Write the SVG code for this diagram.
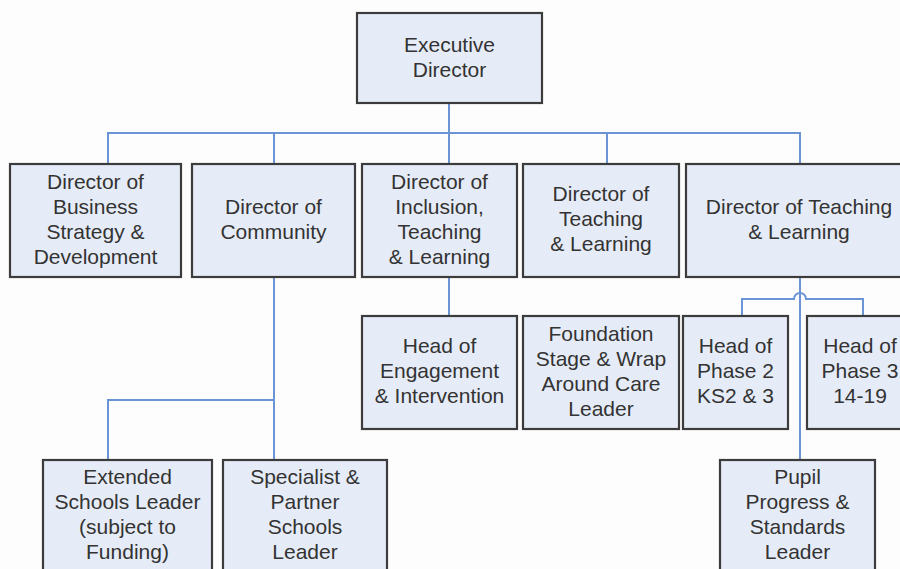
<svg xmlns="http://www.w3.org/2000/svg" width="900" height="569" viewBox="0 0 900 569">
<style>
.box{fill:#e6ecf7;stroke:#3c3c3c;stroke-width:2.2}
.t{font-family:"Liberation Sans",Arial,sans-serif;font-size:21px;fill:#333;text-anchor:middle}
.c{fill:none;stroke:#6a94d4;stroke-width:2}
</style>
<rect width="900" height="569" fill="#fdfdfd"/>
<g id="connectors">
<path class="c" d="M449,103 V164 M108,164 V133 H800 V164 M274,133 V164 M607,133 V164"/>
<path class="c" d="M449,277 V316"/>
<path class="c" d="M274,277 V460 M274,400 H108 V460"/>
<path class="c" d="M800,277 V460"/>
<path class="c" d="M742,316 V299 H794 A6,6 0 0 1 806,299 H863 V316"/>
</g>
<g id="exec"><rect class="box" x="357" y="13" width="185" height="90"/><text class="t" x="449.5" y="52">Executive</text><text class="t" x="449.5" y="77">Director</text></g>
<g id="dir-business"><rect class="box" x="10" y="164" width="171" height="113"/><text class="t" x="95.5" y="189">Director of</text><text class="t" x="95.5" y="214">Business</text><text class="t" x="95.5" y="239">Strategy &amp;</text><text class="t" x="95.5" y="264">Development</text></g>
<g id="dir-community"><rect class="box" x="192" y="164" width="163" height="113"/><text class="t" x="273.5" y="214">Director of</text><text class="t" x="273.5" y="239">Community</text></g>
<g id="dir-inclusion"><rect class="box" x="362" y="164" width="155" height="113"/><text class="t" x="439.5" y="189">Director of</text><text class="t" x="439.5" y="214">Inclusion,</text><text class="t" x="439.5" y="239">Teaching</text><text class="t" x="439.5" y="264">&amp; Learning</text></g>
<g id="dir-teaching1"><rect class="box" x="523" y="164" width="156" height="113"/><text class="t" x="601" y="201">Director of</text><text class="t" x="601" y="226">Teaching</text><text class="t" x="601" y="251">&amp; Learning</text></g>
<g id="dir-teaching2"><rect class="box" x="686" y="164" width="226" height="113"/><text class="t" x="799" y="214">Director of Teaching</text><text class="t" x="799" y="239">&amp; Learning</text></g>
<g id="head-engagement"><rect class="box" x="362" y="316" width="155" height="113"/><text class="t" x="439.5" y="353">Head of</text><text class="t" x="439.5" y="378">Engagement</text><text class="t" x="439.5" y="403">&amp; Intervention</text></g>
<g id="foundation"><rect class="box" x="523" y="316" width="156" height="113"/><text class="t" x="601" y="341">Foundation</text><text class="t" x="601" y="366">Stage &amp; Wrap</text><text class="t" x="601" y="391">Around Care</text><text class="t" x="601" y="416">Leader</text></g>
<g id="phase2"><rect class="box" x="683" y="316" width="105" height="113"/><text class="t" x="735.5" y="353">Head of</text><text class="t" x="735.5" y="378">Phase 2</text><text class="t" x="735.5" y="403">KS2 &amp; 3</text></g>
<g id="phase3"><rect class="box" x="807" y="316" width="106" height="113"/><text class="t" x="860" y="353">Head of</text><text class="t" x="860" y="378">Phase 3</text><text class="t" x="860" y="403">14-19</text></g>
<g id="extended"><rect class="box" x="43" y="460" width="169" height="130"/><text class="t" x="127.5" y="484">Extended</text><text class="t" x="127.5" y="509">Schools Leader</text><text class="t" x="127.5" y="534">(subject to</text><text class="t" x="127.5" y="559">Funding)</text></g>
<g id="specialist"><rect class="box" x="223" y="460" width="164" height="130"/><text class="t" x="305" y="484">Specialist &amp;</text><text class="t" x="305" y="509">Partner</text><text class="t" x="305" y="534">Schools</text><text class="t" x="305" y="559">Leader</text></g>
<g id="pupil"><rect class="box" x="720" y="460" width="155" height="130"/><text class="t" x="797.5" y="484">Pupil</text><text class="t" x="797.5" y="509">Progress &amp;</text><text class="t" x="797.5" y="534">Standards</text><text class="t" x="797.5" y="559">Leader</text></g>
</svg>
